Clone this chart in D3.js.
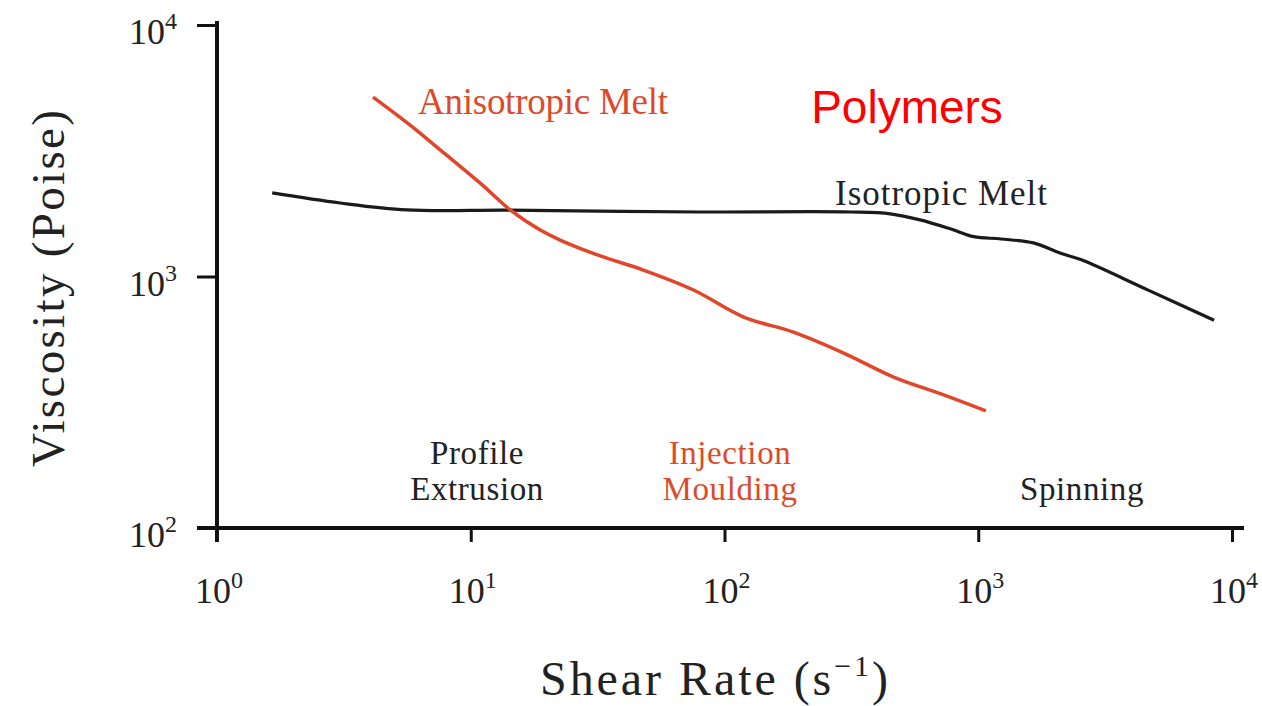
<!DOCTYPE html>
<html lang="en">
    <head>
        <meta charset="utf-8">
        <title>Viscosity vs Shear Rate</title>
        <script src="https://d3js.org/d3.v7.min.js"></script>
        <style>
            body { margin: 0; background: #fff; }
            text { font-family: "Liberation Serif", "Times New Roman", serif; }
        </style>
    </head>

    <body>
        <div id="chart"></div>

        <script>
            // data (shear rate in 1/s, viscosity in Poise)
            var isoShear = [1.65, 3.06, 5.6, 13.9, 32, 80, 314, 450, 590, 780, 960, 1230, 1650, 2100, 2550, 4650, 8500];
            var isoVisc  = [2150, 1960, 1840, 1835, 1820, 1805, 1805, 1775, 1680, 1545, 1440, 1410, 1360, 1240, 1165, 885, 670];

            var anisoShear = [4.12, 5.77, 7.6, 10.9, 14.3, 18.8, 22.5, 32.4, 47.9, 75.5, 119, 187, 295, 464, 731, 1071];
            var anisoVisc  = [5170, 4000, 3180, 2350, 1840, 1530, 1396, 1207, 1061, 884, 690, 601, 496, 398, 338, 292];

            var xTicks = [1, 10, 100, 1000, 10000];
            var yTicks = [100, 1000, 10000];

            var width = 1262, height = 706;

            var svg = d3.select("#chart")
                        .append("svg")
                        .attr("width", width)
                        .attr("height", height);

            var x = d3.scaleLog().domain([1, 10000]).range([217, 1232]);
            var y = d3.scaleLog().domain([100, 10000]).range([528, 25]);

            // x axis ticks
            var xAxis = svg.append("g")
                .attr("transform", "translate(0," + y(100) + ")")
                .call(d3.axisBottom(x).tickValues(xTicks).tickSize(14).tickFormat(""));
            xAxis.select(".domain").remove();
            xAxis.selectAll(".tick line").attr("stroke", "#111").attr("stroke-width", 3);

            // y axis ticks
            var yAxis = svg.append("g")
                .attr("transform", "translate(" + x(1) + ",0)")
                .call(d3.axisLeft(y).tickValues(yTicks).tickSize(20).tickFormat(""));
            yAxis.select(".domain").remove();
            yAxis.selectAll(".tick line").attr("stroke", "#111").attr("stroke-width", 3);

            // the axis lines themselves
            svg.append("line")
                .attr("x1", x(1) - 20).attr("x2", x(10000) + 12)
                .attr("y1", y(100)).attr("y2", y(100))
                .attr("stroke", "#111").attr("stroke-width", 4);
            svg.append("line")
                .attr("x1", x(1)).attr("x2", x(1))
                .attr("y1", y(10000) - 4).attr("y2", y(100) + 14)
                .attr("stroke", "#111").attr("stroke-width", 4);

            // tick labels as 10^n
            function powLabel(sel, v) {
                sel.append("tspan").text("10");
                sel.append("tspan")
                    .attr("dy", -15)
                    .attr("font-size", 24)
                    .text(Math.round(Math.log10(v)));
            }

            xTicks.forEach(function(v){
                var t = svg.append("text")
                    .attr("x", x(v) + 2)
                    .attr("y", 603)
                    .attr("text-anchor", "middle")
                    .attr("font-size", 36)
                    .attr("fill", "#222");
                powLabel(t, v);
            });

            yTicks.forEach(function(v){
                var t = svg.append("text")
                    .attr("x", 177)
                    .attr("y", y(v) + 19)
                    .attr("text-anchor", "end")
                    .attr("font-size", 36)
                    .attr("fill", "#222");
                powLabel(t, v);
            });

            // axis titles
            var xt = svg.append("text")
                .attr("x", 540)
                .attr("y", 695)
                .attr("font-size", 48)
                .attr("fill", "#222")
                .attr("textLength", 348)
                .attr("lengthAdjust", "spacing");
            xt.append("tspan").text("Shear Rate (s");
            xt.append("tspan").attr("dy", -19).attr("font-size", 30).text("\u22121");
            xt.append("tspan").attr("dy", 19).text(")");

            svg.append("text")
                .attr("transform", "translate(64,467) rotate(-90)")
                .attr("font-size", 47)
                .attr("fill", "#222")
                .attr("textLength", 357)
                .attr("lengthAdjust", "spacing")
                .text("Viscosity (Poise)");

            // curves
            var line = d3.line()
                .x(function(d){ return x(d[0]); })
                .y(function(d){ return y(d[1]); })
                .curve(d3.curveCatmullRom);

            var isoData = isoShear.map(function(s, i){ return [s, isoVisc[i]]; });
            var anisoData = anisoShear.map(function(s, i){ return [s, anisoVisc[i]]; });

            svg.append("path")
                .datum(isoData)
                .attr("d", line)
                .attr("fill", "none")
                .attr("stroke", "#1a1a1a")
                .attr("stroke-width", 3.2);

            svg.append("path")
                .datum(anisoData)
                .attr("d", line)
                .attr("fill", "none")
                .attr("stroke", "#e2462a")
                .attr("stroke-width", 3.5);

            // annotations
            var orange = "#dc4a2c";

            svg.append("text")
                .attr("x", 418).attr("y", 114)
                .attr("font-size", 37)
                .attr("fill", orange)
                .attr("textLength", 250)
                .attr("lengthAdjust", "spacing")
                .text("Anisotropic  Melt");

            svg.append("text")
                .attr("x", 835).attr("y", 205)
                .attr("font-size", 35)
                .attr("fill", "#222")
                .attr("textLength", 212)
                .attr("lengthAdjust", "spacing")
                .text("Isotropic  Melt");

            svg.append("text")
                .attr("x", 907).attr("y", 123)
                .attr("text-anchor", "middle")
                .attr("font-size", 46)
                .style("font-family", "'Liberation Sans', Arial, sans-serif")
                .attr("fill", "#ff0000")
                .text("Polymers");

            var regions = [
                { lines: ["Profile", "Extrusion"], cx: 477, color: "#222" },
                { lines: ["Injection", "Moulding"], cx: 730, color: orange },
                { lines: ["Spinning"], cx: 1082, color: "#222" }
            ];

            regions.forEach(function(r){
                var y0 = 500 - (r.lines.length - 1) * 36;
                r.lines.forEach(function(s, i){
                    svg.append("text")
                        .attr("x", r.cx)
                        .attr("y", y0 + i * 36)
                        .attr("text-anchor", "middle")
                        .attr("font-size", 33)
                        .attr("letter-spacing", 0.6)
                        .attr("fill", r.color)
                        .text(s);
                });
            });
        </script>
    </body>
</html>
